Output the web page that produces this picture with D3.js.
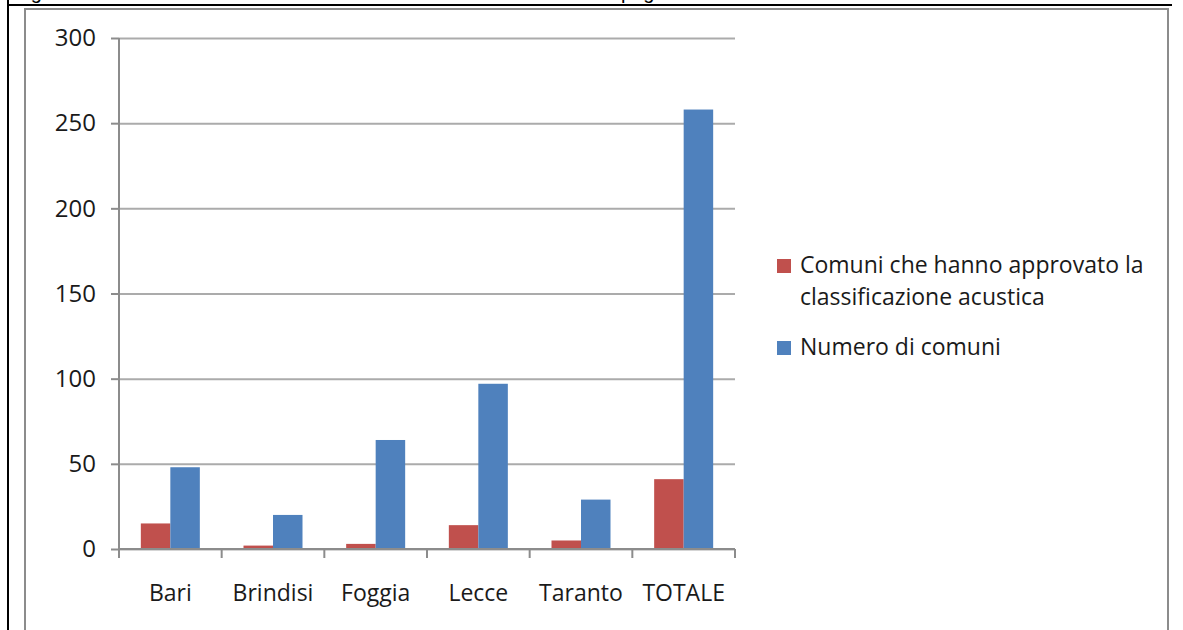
<!DOCTYPE html>
<meta charset="utf-8">
<script src="https://d3js.org/d3.v7.min.js"></script>
<style>
  body { margin: 0; background: #fff; }
  text { font-family: "Open Sans", sans-serif; fill: #1a1a1a; }
</style>
<div id="chart"></div>
<script>

    // data
    var categories = ["Bari", "Brindisi", "Foggia", "Lecce", "Taranto", "TOTALE"];
    var seriesNames = ["Comuni che hanno approvato la classificazione acustica", "Numero di comuni"];
    var approvati = [15, 2, 3, 14, 5, 41];
    var numeroComuni = [48, 20, 64, 97, 29, 258];
    var yTicks = [0, 50, 100, 150, 200, 250, 300];
    var colors = ["#C0504D", "#4F81BD"];

    var width = 1183, height = 630;
    var plot = {left: 119, right: 735, top: 38, bottom: 549};

    var svg = d3.select("#chart")
      .append("svg")
        .attr("width", width)
        .attr("height", height);

    // cut-off caption of the document cell above the chart
    svg.append("text")
        .attr("x", 14)
        .attr("y", -1)
        .style("font-family", "Arial, 'Liberation Sans', sans-serif")
        .style("font-size", "20px")
        .style("fill", "#000")
        .text("Fig. 4 – Stato di attuazione della classificazione acustica dei comuni pugliesi");

    // table border lines
    svg.append("line")
        .attr("x1", 8).attr("x2", 1172).attr("y1", 5).attr("y2", 5)
        .attr("stroke", "#000").attr("stroke-width", 2);
    svg.append("line")
        .attr("x1", 8).attr("x2", 8).attr("y1", 0).attr("y2", height)
        .attr("stroke", "#000").attr("stroke-width", 2);

    // chart area border
    svg.append("rect")
        .attr("x", 25).attr("y", 9)
        .attr("width", 1168 - 25).attr("height", height)
        .attr("fill", "#fff")
        .attr("stroke", "#8c8c8c").attr("stroke-width", 2);

    // scales
    var x0 = d3.scaleBand()
      .domain(categories)
      .range([plot.left, plot.right])
      .padding(0);

    var x1 = d3.scaleBand()
      .domain([0, 1])
      .range([0, x0.bandwidth()])
      .paddingInner(0)
      .paddingOuter(0.74);

    var y = d3.scaleLinear()
      .domain([0, 300])
      .range([plot.bottom, plot.top]);

    // gridlines
    svg.append("g")
        .attr("transform", "translate(" + plot.left + ",0)")
        .call(d3.axisLeft(y).tickValues(yTicks)
          .tickSizeInner(-(plot.right - plot.left)).tickSizeOuter(0).tickFormat(""))
        .call(function(g) { g.select(".domain").remove(); })
        .selectAll("line")
          .attr("stroke", "#ababab").attr("stroke-width", 2);

    // bars
    var rows = categories.map(function(c, i) {
      return {cat: c, values: [approvati[i], numeroComuni[i]]};
    });

    var groups = svg.selectAll("g.grp")
      .data(rows)
      .enter()
      .append("g")
        .attr("class", "grp")
        .attr("transform", function(d) { return "translate(" + x0(d.cat) + ",0)"; });

    groups.selectAll("rect")
      .data(function(d) { return d.values; })
      .enter()
      .append("rect")
        .attr("x", function(d, i) { return x1(i); })
        .attr("y", function(d) { return y(d); })
        .attr("width", x1.bandwidth())
        .attr("height", function(d) { return plot.bottom - y(d); })
        .attr("fill", function(d, i) { return colors[i]; });

    // y axis
    var yAxis = svg.append("g")
        .attr("transform", "translate(" + plot.left + ",0)")
        .call(d3.axisLeft(y).tickValues(yTicks).tickSize(8).tickPadding(15));
    yAxis.selectAll("path, line").attr("stroke", "#8c8c8c").attr("stroke-width", 2);
    yAxis.select(".domain").attr("d", "M0," + plot.top + "V" + plot.bottom);
    yAxis.selectAll("text")
        .style("font-family", "'Open Sans', sans-serif")
        .style("font-size", "24px")
        .attr("fill", "#1a1a1a");

    // x axis: line, ticks at category boundaries, labels at centres
    var xAxis = svg.append("g")
        .attr("transform", "translate(0," + plot.bottom + ")")
        .call(d3.axisBottom(x0).tickSize(0).tickPadding(36));
    xAxis.select(".domain")
        .attr("d", "M" + plot.left + ",0H" + plot.right)
        .attr("stroke", "#8c8c8c").attr("stroke-width", 2);
    xAxis.selectAll("text")
        .style("font-family", "'Open Sans', sans-serif")
        .style("font-size", "23px")
        .attr("fill", "#1a1a1a");

    var bounds = categories.map(function(c) { return x0(c); }).concat([plot.right]);
    xAxis.selectAll("line.bound")
      .data(bounds)
      .enter()
      .append("line")
        .attr("class", "bound")
        .attr("x1", function(d) { return d; })
        .attr("x2", function(d) { return d; })
        .attr("y1", 0).attr("y2", 9)
        .attr("stroke", "#8c8c8c").attr("stroke-width", 2);

    // legend
    var legend = svg.append("g").attr("transform", "translate(777,0)");
    var legendRows = [
      {lines: ["Comuni che hanno approvato la", "classificazione acustica"], y: 259},
      {lines: ["Numero di comuni"], y: 341}
    ];
    legendRows.forEach(function(r, i) {
      legend.append("rect")
          .attr("x", 0).attr("y", r.y)
          .attr("width", 14).attr("height", 14)
          .attr("fill", colors[i]);
      var t = legend.append("text")
          .attr("x", 23).attr("y", r.y + 14)
          .style("font-size", "23px");
      r.lines.forEach(function(line, j) {
        t.append("tspan")
            .attr("x", 23)
            .attr("dy", j === 0 ? 0 : 32)
            .text(line);
      });
    });

</script>
